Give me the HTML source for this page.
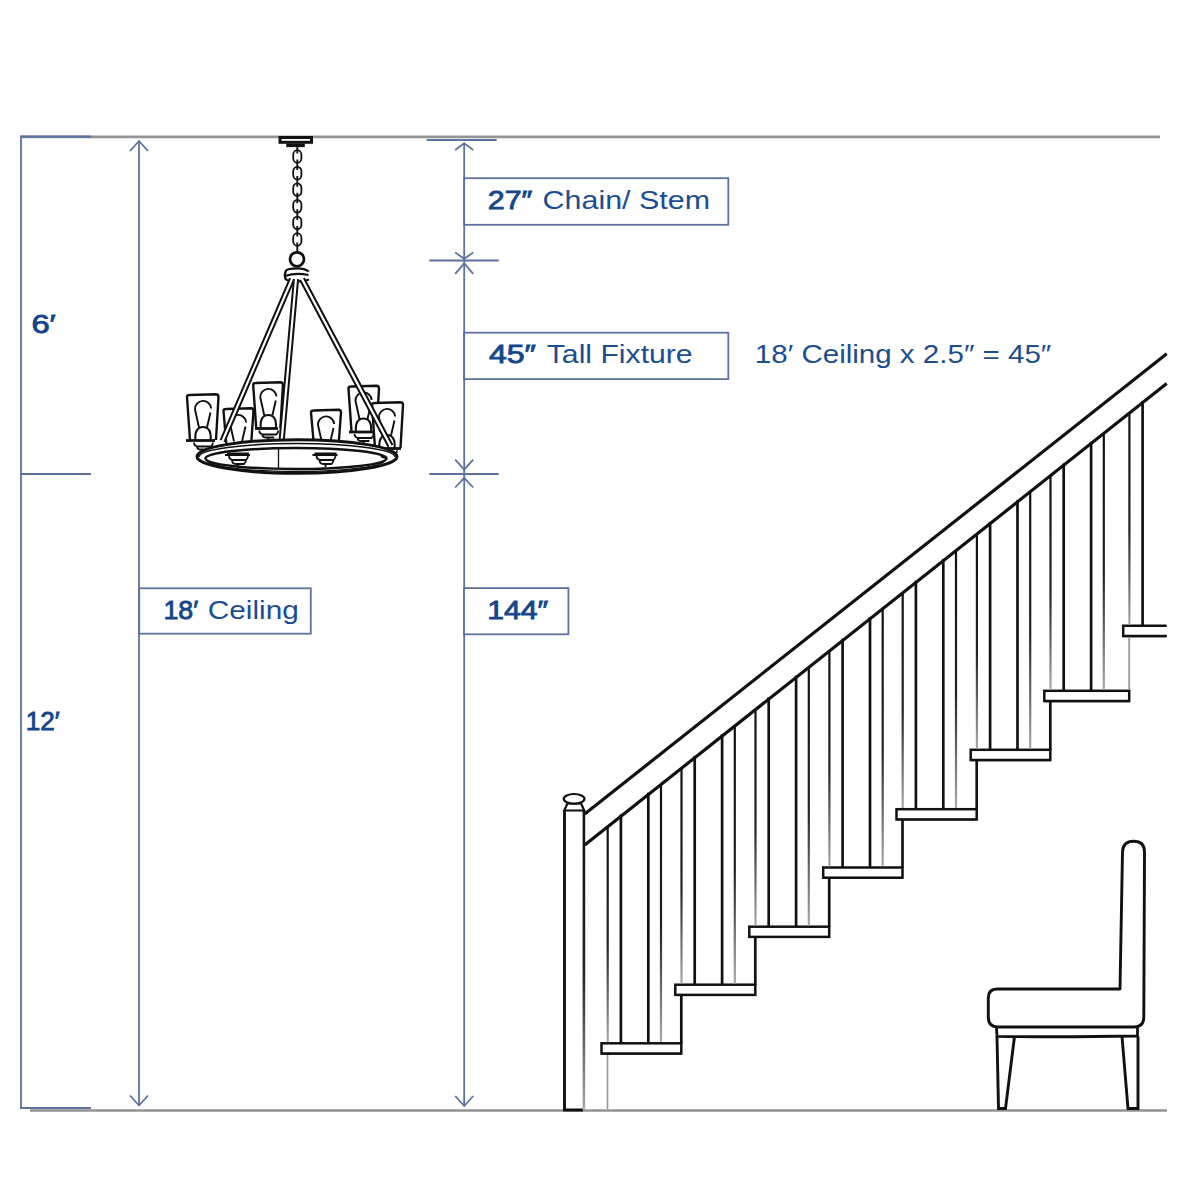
<!DOCTYPE html>
<html><head><meta charset="utf-8"><style>
html,body{margin:0;padding:0;background:#fff;}
svg{display:block;}
text{font-family:"Liberation Sans",sans-serif;}
</style></head><body>
<svg width="1200" height="1200" viewBox="0 0 1200 1200">
<defs><linearGradient id="fade" x1="0" y1="0" x2="0" y2="1"><stop offset="0" stop-color="#111"/><stop offset="0.55" stop-color="#222"/><stop offset="1" stop-color="#aaa"/></linearGradient></defs>
<rect width="1200" height="1200" fill="#fff"/>
<path d="M21 136.8 L1160 136.9" stroke="#939393" stroke-width="2.7" fill="none"/>
<path d="M30 1110.5 L1167 1110.5" stroke="#939393" stroke-width="2.6" fill="none"/>
<line x1="21" y1="136.5" x2="21" y2="1108.5" stroke="#5d729c" stroke-width="1.8" />
<line x1="20.1" y1="136.7" x2="91" y2="136.7" stroke="#5d729c" stroke-width="2.2" />
<line x1="20.1" y1="474" x2="91" y2="474" stroke="#5d729c" stroke-width="2.0" />
<line x1="20.1" y1="1108" x2="91" y2="1108" stroke="#5d729c" stroke-width="2.0" />
<line x1="139" y1="141" x2="139" y2="1105.5" stroke="#5d729c" stroke-width="1.8" />
<polyline points="130,151 139,141 148,151" fill="none" stroke="#5d729c" stroke-width="1.8" stroke-linejoin="miter"/>
<polyline points="130,1095.5 139,1105.5 148,1095.5" fill="none" stroke="#5d729c" stroke-width="1.8" stroke-linejoin="miter"/>
<line x1="464.2" y1="143" x2="464.2" y2="1106" stroke="#5d729c" stroke-width="1.8" />
<line x1="426.7" y1="140" x2="496.7" y2="140" stroke="#5d729c" stroke-width="2.0" />
<polyline points="455.2,150 464.2,143.3 473.2,150" fill="none" stroke="#5d729c" stroke-width="1.8" stroke-linejoin="miter"/>
<polyline points="455.2,252.5 464.2,258.8 473.2,252.5" fill="none" stroke="#5d729c" stroke-width="1.8" stroke-linejoin="miter"/>
<line x1="429.2" y1="260.4" x2="498.8" y2="260.4" stroke="#5d729c" stroke-width="2.0" />
<polyline points="455.2,273.8 464.2,263.3 473.2,273.8" fill="none" stroke="#5d729c" stroke-width="1.8" stroke-linejoin="miter"/>
<polyline points="455.2,459.6 464.2,469.6 473.2,459.6" fill="none" stroke="#5d729c" stroke-width="1.8" stroke-linejoin="miter"/>
<line x1="429.2" y1="474" x2="498.8" y2="474" stroke="#5d729c" stroke-width="2.0" />
<polyline points="455.2,487.5 464.2,477.9 473.2,487.5" fill="none" stroke="#5d729c" stroke-width="1.8" stroke-linejoin="miter"/>
<polyline points="455.2,1096 464.2,1106 473.2,1096" fill="none" stroke="#5d729c" stroke-width="1.8" stroke-linejoin="miter"/>
<rect x="464.2" y="178.2" width="264.09999999999997" height="46.60000000000002" fill="#fff" stroke="#5d729c" stroke-width="1.8"/>
<rect x="464.2" y="332.7" width="264.09999999999997" height="46.400000000000034" fill="#fff" stroke="#5d729c" stroke-width="1.8"/>
<rect x="139.2" y="588.3" width="171.60000000000002" height="45.40000000000009" fill="#fff" stroke="#5d729c" stroke-width="1.8"/>
<rect x="464.0" y="588.1" width="104.39999999999998" height="46.19999999999993" fill="#fff" stroke="#5d729c" stroke-width="1.8"/>
<text x="487.8" y="208.5" font-size="25.8" font-weight="normal" fill="#15468a" stroke="#15468a" stroke-width="0.85" textLength="44.5" lengthAdjust="spacingAndGlyphs">27″</text>
<text x="542.6" y="208.5" font-size="25.8" font-weight="normal" fill="#1c4d92" textLength="167.5" lengthAdjust="spacingAndGlyphs">Chain/ Stem</text>
<text x="488.9" y="362.8" font-size="25.8" font-weight="normal" fill="#15468a" stroke="#15468a" stroke-width="0.85" textLength="47" lengthAdjust="spacingAndGlyphs">45″</text>
<text x="546.8" y="362.8" font-size="25.8" font-weight="normal" fill="#1c4d92" textLength="145.8" lengthAdjust="spacingAndGlyphs">Tall Fixture</text>
<text x="754.8" y="362.7" font-size="25.8" font-weight="normal" fill="#1c4d92" textLength="296.5" lengthAdjust="spacingAndGlyphs">18′ Ceiling x 2.5″ = 45″</text>
<text x="163.4" y="618.7" font-size="25.8" font-weight="normal" fill="#15468a" stroke="#15468a" stroke-width="0.85" textLength="34.8" lengthAdjust="spacingAndGlyphs">18′</text>
<text x="207.8" y="618.7" font-size="25.8" font-weight="normal" fill="#1c4d92" textLength="91" lengthAdjust="spacingAndGlyphs">Ceiling</text>
<text x="487.3" y="618.8" font-size="25.8" font-weight="normal" fill="#15468a" stroke="#15468a" stroke-width="0.85" textLength="61" lengthAdjust="spacingAndGlyphs">144″</text>
<text x="31.4" y="332.7" font-size="25.8" font-weight="normal" fill="#15468a" stroke="#15468a" stroke-width="0.85" textLength="24.3" lengthAdjust="spacingAndGlyphs">6′</text>
<text x="25.7" y="730.3" font-size="25.8" font-weight="normal" fill="#15468a" stroke="#15468a" stroke-width="0.85" textLength="34" lengthAdjust="spacingAndGlyphs">12′</text>
<rect x="601.5" y="1043.3" width="79.79999999999995" height="10.2" fill="#fff" stroke="#111" stroke-width="2.5"/>
<line x1="601.5" y1="1053.9" x2="681.3" y2="1053.9" stroke="#111" stroke-width="1.5"/>
<rect x="606.6" y="826.3" width="2.2" height="215.8" fill="url(#fade)"/>
<line x1="620.9" y1="815.7198969072165" x2="620.9" y2="1042.1" stroke="#111" stroke-width="2.7" stroke-linecap="square"/>
<line x1="648.3" y1="794.0117525773196" x2="648.3" y2="1042.1" stroke="#111" stroke-width="2.7" stroke-linecap="square"/>
<rect x="659.9" y="784.1" width="2.2" height="258.0" fill="url(#fade)"/>
<rect x="606.7" y="1055.0" width="1.6" height="54.0" fill="#999"/>
<rect x="675.3" y="984.7" width="80.0" height="10.2" fill="#fff" stroke="#111" stroke-width="2.5"/>
<line x1="675.3" y1="995.3000000000001" x2="755.3" y2="995.3000000000001" stroke="#111" stroke-width="1.5"/>
<rect x="680.4" y="767.9" width="2.2" height="215.6" fill="url(#fade)"/>
<line x1="694.6999999999999" y1="757.2505154639176" x2="694.6999999999999" y2="983.5" stroke="#111" stroke-width="2.7" stroke-linecap="square"/>
<line x1="722.0999999999999" y1="735.5423711340206" x2="722.0999999999999" y2="983.5" stroke="#111" stroke-width="2.7" stroke-linecap="square"/>
<rect x="733.7" y="725.6" width="2.2" height="257.9" fill="url(#fade)"/>
<line x1="681.3" y1="996.1000000000001" x2="681.3" y2="1042.1" stroke="#111" stroke-width="2.7" stroke-linecap="square"/>
<rect x="749.3" y="926.7" width="79.90000000000009" height="10.2" fill="#fff" stroke="#111" stroke-width="2.5"/>
<line x1="749.3" y1="937.3000000000001" x2="829.2" y2="937.3000000000001" stroke="#111" stroke-width="1.5"/>
<rect x="754.4" y="709.2" width="2.2" height="216.3" fill="url(#fade)"/>
<line x1="768.6999999999999" y1="698.6226804123712" x2="768.6999999999999" y2="925.5" stroke="#111" stroke-width="2.7" stroke-linecap="square"/>
<line x1="796.0999999999999" y1="676.9145360824743" x2="796.0999999999999" y2="925.5" stroke="#111" stroke-width="2.7" stroke-linecap="square"/>
<rect x="807.7" y="667.0" width="2.2" height="258.5" fill="url(#fade)"/>
<line x1="755.3" y1="938.1000000000001" x2="755.3" y2="983.5" stroke="#111" stroke-width="2.7" stroke-linecap="square"/>
<rect x="823.2" y="867.5" width="79.29999999999995" height="10.2" fill="#fff" stroke="#111" stroke-width="2.5"/>
<line x1="823.2" y1="878.1" x2="902.5" y2="878.1" stroke="#111" stroke-width="1.5"/>
<rect x="828.3" y="650.7" width="2.2" height="215.6" fill="url(#fade)"/>
<line x1="842.6" y1="640.0740721649485" x2="842.6" y2="866.3" stroke="#111" stroke-width="2.7" stroke-linecap="square"/>
<line x1="870.0" y1="618.3659278350515" x2="870.0" y2="866.3" stroke="#111" stroke-width="2.7" stroke-linecap="square"/>
<rect x="881.6" y="608.5" width="2.2" height="257.8" fill="url(#fade)"/>
<line x1="829.2" y1="878.9000000000001" x2="829.2" y2="925.5" stroke="#111" stroke-width="2.7" stroke-linecap="square"/>
<rect x="896.5" y="809.2" width="80.20000000000005" height="10.2" fill="#fff" stroke="#111" stroke-width="2.5"/>
<line x1="896.5" y1="819.8000000000001" x2="976.7" y2="819.8000000000001" stroke="#111" stroke-width="1.5"/>
<rect x="901.6" y="592.6" width="2.2" height="215.4" fill="url(#fade)"/>
<line x1="915.9" y1="582.000824742268" x2="915.9" y2="808.0" stroke="#111" stroke-width="2.7" stroke-linecap="square"/>
<line x1="943.3" y1="560.2926804123712" x2="943.3" y2="808.0" stroke="#111" stroke-width="2.7" stroke-linecap="square"/>
<rect x="954.9" y="550.4" width="2.2" height="257.6" fill="url(#fade)"/>
<line x1="902.5" y1="820.6000000000001" x2="902.5" y2="866.3" stroke="#111" stroke-width="2.7" stroke-linecap="square"/>
<rect x="970.7" y="749.8" width="79.59999999999991" height="10.2" fill="#fff" stroke="#111" stroke-width="2.5"/>
<line x1="970.7" y1="760.4" x2="1050.3" y2="760.4" stroke="#111" stroke-width="1.5"/>
<rect x="975.8" y="533.8" width="2.2" height="214.8" fill="url(#fade)"/>
<line x1="990.1" y1="523.2145360824742" x2="990.1" y2="748.5999999999999" stroke="#111" stroke-width="2.7" stroke-linecap="square"/>
<line x1="1017.5" y1="501.5063917525773" x2="1017.5" y2="748.5999999999999" stroke="#111" stroke-width="2.7" stroke-linecap="square"/>
<rect x="1029.1" y="491.6" width="2.2" height="257.0" fill="url(#fade)"/>
<line x1="976.7" y1="761.2" x2="976.7" y2="808.0" stroke="#111" stroke-width="2.7" stroke-linecap="square"/>
<rect x="1044.3" y="690.8" width="84.90000000000009" height="10.2" fill="#fff" stroke="#111" stroke-width="2.5"/>
<line x1="1044.3" y1="701.4" x2="1129.2" y2="701.4" stroke="#111" stroke-width="1.5"/>
<rect x="1049.4" y="475.5" width="2.2" height="214.1" fill="url(#fade)"/>
<line x1="1063.7" y1="464.9036082474226" x2="1063.7" y2="689.5999999999999" stroke="#111" stroke-width="2.7" stroke-linecap="square"/>
<line x1="1091.1" y1="443.19546391752584" x2="1091.1" y2="689.5999999999999" stroke="#111" stroke-width="2.7" stroke-linecap="square"/>
<rect x="1102.7" y="433.3" width="2.2" height="256.3" fill="url(#fade)"/>
<line x1="1050.3" y1="702.2" x2="1050.3" y2="748.5999999999999" stroke="#111" stroke-width="2.7" stroke-linecap="square"/>
<path d="M1166.7 625.8 L1123.2 625.8 L1123.2 636.0 L1166.7 636.0" fill="#fff" stroke="#111" stroke-width="2.5"/>
<line x1="1123.2" y1="636.4" x2="1166.7" y2="636.4" stroke="#111" stroke-width="1.5"/>
<rect x="1128.3" y="413.0" width="2.2" height="211.6" fill="url(#fade)"/>
<line x1="1142.6000000000001" y1="402.3936597938143" x2="1142.6000000000001" y2="624.5999999999999" stroke="#111" stroke-width="2.7" stroke-linecap="square"/>
<rect x="1128.3" y="637.5" width="1.8" height="52.1" fill="#999"/>
<path d="M584.7 814 L1166.7 353.8 M584.7 845 L1166.7 383.6" stroke="#111" stroke-width="3.2" fill="none"/>
<path d="M564.5 810.5 L564.5 1110 L583 1110" stroke="#111" stroke-width="2.9" fill="none"/>
<rect x="582.6" y="810.5" width="2.6" height="299.5" fill="url(#fade)"/>
<path d="M564.3 810.5 L584.2 810.5 L581 803.4 L567.5 803.4 Z" fill="#fff" stroke="#111" stroke-width="2.2"/>
<ellipse cx="574.1" cy="798.8" rx="10.4" ry="4.8" fill="#fff" stroke="#111" stroke-width="2.2"/>
<path d="M1120 989 L1122.5 852 Q1123 841.3 1133.5 841.3 Q1144.5 841.3 1144.5 852 L1143.8 1017 Q1143.8 1027 1134 1027 L998 1027 Q988.3 1027 988.3 1017 L988.3 998 Q988.3 989 997 989 Z" fill="#fff" stroke="#111" stroke-width="2.9" stroke-linejoin="round"/>
<path d="M996.5 1028 L997 1036.3 Q1060 1037.3 1137.5 1036 L1137.5 1028" fill="none" stroke="#111" stroke-width="2.8"/>
<path d="M997 1036.5 L998.5 1108.5 L1005.5 1108.5 L1014.5 1036.5" fill="none" stroke="#111" stroke-width="2.9"/>
<path d="M1122 1036.5 L1128 1108.5 L1138 1108.5 L1138 1036.5" fill="none" stroke="#111" stroke-width="2.9"/>
<g><rect x="280" y="137.5" width="31.5" height="4.8" fill="#fff" stroke="#111" stroke-width="3"/><rect x="286.3" y="143.5" width="18.5" height="3.6" fill="#111"/><rect x="293.2" y="150.2" width="8.2" height="12.6" rx="4.1" ry="4.5" fill="none" stroke="#111" stroke-width="1.8"/><rect x="293.2" y="166.8" width="8.2" height="12.6" rx="4.1" ry="4.5" fill="none" stroke="#111" stroke-width="1.8"/><rect x="293.2" y="183.4" width="8.2" height="12.6" rx="4.1" ry="4.5" fill="none" stroke="#111" stroke-width="1.8"/><rect x="293.2" y="200.0" width="8.2" height="12.6" rx="4.1" ry="4.5" fill="none" stroke="#111" stroke-width="1.8"/><rect x="293.2" y="216.6" width="8.2" height="12.6" rx="4.1" ry="4.5" fill="none" stroke="#111" stroke-width="1.8"/><rect x="293.2" y="233.2" width="8.2" height="12.6" rx="4.1" ry="4.5" fill="none" stroke="#111" stroke-width="1.8"/><path d="M297.3 147 L297.3 150 M297.3 146.0 L297.3 153.5 M297.3 159.5 L297.3 167.0 M297.3 162.6 L297.3 170.1 M297.3 176.1 L297.3 183.6 M297.3 179.2 L297.3 186.7 M297.3 192.7 L297.3 200.2 M297.3 195.8 L297.3 203.3 M297.3 209.3 L297.3 216.8 M297.3 212.4 L297.3 219.9 M297.3 225.9 L297.3 233.4 M297.3 229.0 L297.3 236.5 M297.3 242.5 L297.3 250.0 M297.3 245 L297.3 252" stroke="#111" stroke-width="1.9"/><circle cx="297" cy="259.3" r="7" fill="#fff" stroke="#111" stroke-width="2.8"/><path d="M286 270.5 Q288 268.3 297 268.3 Q305 268.3 308.8 271.5 M286 270.5 Q283.8 275 285.5 279 Q288 281.5 297 281.5 Q305 281 309 279.5 M285.5 275.8 Q296 272.5 308.5 275" fill="none" stroke="#111" stroke-width="2.2"/><path d="M226.5 446 L223.5 411 Q223.5 409 226.0 409 L251.0 408.2 Q253.5 408.2 253.5 411 L251.0 446 Z" fill="#fff" stroke="none"/><path d="M226.5 446 L223.5 411 Q223.5 409 226.0 409 L251.0 408.2 Q253.5 408.2 253.5 411 L251.0 446" fill="none" stroke="#111" stroke-width="2.4"/><path d="M234 441.5 L230 423.5 A8 8 0 0 1 246.2 422.5 M245.5 426.5 L242 441.5" fill="none" stroke="#111" stroke-width="1.9"/><path d="M314 446 L311 412.5 Q311 410.5 313.5 410.5 L338.5 409.7 Q341 409.7 341 412.5 L338.5 446 Z" fill="#fff" stroke="none"/><path d="M314 446 L311 412.5 Q311 410.5 313.5 410.5 L338.5 409.7 Q341 409.7 341 412.5 L338.5 446" fill="none" stroke="#111" stroke-width="2.4"/><path d="M322 443.0 L318 425.0 A8 8 0 0 1 334.2 424.0 M333.5 428.0 L330 443.0" fill="none" stroke="#111" stroke-width="1.9"/><path d="M190 440 L187 397 Q187 395 189.5 395 L216.0 394.2 Q218.5 394.2 218.5 397 L216.0 440 Z" fill="#fff" stroke="none"/><path d="M190 440 L187 397 Q187 395 189.5 395 L216.0 394.2 Q218.5 394.2 218.5 397 L216.0 440" fill="none" stroke="#111" stroke-width="2.4"/><path d="M199 427.5 L195 409.5 A8 8 0 0 1 211.2 408.5 M210.5 412.5 L207 427.5" fill="none" stroke="#111" stroke-width="1.9"/><path d="M195.5 440.5 C194.5 431.5 197.5 427.0 203 427.0 C208.5 427.0 211.5 431.5 210.5 440.5" fill="#fff" stroke="#111" stroke-width="2.1"/><path d="M186 440.5 L215 440.5" stroke="#111" stroke-width="2.8"/><path d="M194 442.5 Q194 446.5 199 446.5 L211 446.5 Q213 444.5 213 442.5 M197 446.5 Q197 449.5 201 449.5 L209 449.5 M203 449.5 L203 451.5" fill="none" stroke="#111" stroke-width="1.8"/><path d="M256.2 428 L253.2 385 Q253.2 383 255.7 383 L280.4 382.2 Q282.9 382.2 282.9 385 L280.4 428 Z" fill="#fff" stroke="none"/><path d="M256.2 428 L253.2 385 Q253.2 383 255.7 383 L280.4 382.2 Q282.9 382.2 282.9 385 L280.4 428" fill="none" stroke="#111" stroke-width="2.4"/><path d="M264.3 415.5 L260.3 397.5 A8 8 0 0 1 276.5 396.5 M275.8 400.5 L272.3 415.5" fill="none" stroke="#111" stroke-width="1.9"/><path d="M260.8 428.5 C259.8 419.5 262.8 415.0 268.3 415.0 C273.8 415.0 276.8 419.5 275.8 428.5" fill="#fff" stroke="#111" stroke-width="2.1"/><path d="M255 428.5 L278 428.5" stroke="#111" stroke-width="2.8"/><path d="M259.3 430.5 Q259.3 434.5 264.3 434.5 L276.3 434.5 Q278.3 432.5 278.3 430.5 M262.3 434.5 Q262.3 437.5 266.3 437.5 L274.3 437.5 M268.3 437.5 L268.3 439.5" fill="none" stroke="#111" stroke-width="1.8"/><path d="M351.5 431.5 L348.5 388.5 Q348.5 386.5 351.0 386.5 L376.5 385.7 Q379 385.7 379 388.5 L376.5 431.5 Z" fill="#fff" stroke="none"/><path d="M351.5 431.5 L348.5 388.5 Q348.5 386.5 351.0 386.5 L376.5 385.7 Q379 385.7 379 388.5 L376.5 431.5" fill="none" stroke="#111" stroke-width="2.4"/><path d="M359.5 419.0 L355.5 401.0 A8 8 0 0 1 371.7 400.0 M371.0 404.0 L367.5 419.0" fill="none" stroke="#111" stroke-width="1.9"/><path d="M356.0 432.0 C355.0 423.0 358.0 418.5 363.5 418.5 C369.0 418.5 372.0 423.0 371.0 432.0" fill="#fff" stroke="#111" stroke-width="2.1"/><path d="M349 432.0 L375 432.0" stroke="#111" stroke-width="2.8"/><path d="M354.5 434.0 Q354.5 438.0 359.5 438.0 L371.5 438.0 Q373.5 436.0 373.5 434.0 M357.5 438.0 Q357.5 441.0 361.5 441.0 L369.5 441.0 M363.5 441.0 L363.5 443.0" fill="none" stroke="#111" stroke-width="1.8"/><path d="M375 448 L372 405 Q372 403 374.5 403 L400.5 402.2 Q403 402.2 403 405 L400.5 448 Z" fill="#fff" stroke="none"/><path d="M375 448 L372 405 Q372 403 374.5 403 L400.5 402.2 Q403 402.2 403 405 L400.5 448" fill="none" stroke="#111" stroke-width="2.4"/><path d="M383 435.5 L379 417.5 A8 8 0 0 1 395.2 416.5 M394.5 420.5 L391 435.5" fill="none" stroke="#111" stroke-width="1.9"/><path d="M379.5 448.5 C378.5 439.5 381.5 435.0 387 435.0 C392.5 435.0 395.5 439.5 394.5 448.5" fill="#fff" stroke="#111" stroke-width="2.1"/><path d="M378 448.5 L401 448.5" stroke="#111" stroke-width="2.8"/><path d="M378 450.5 Q378 454.5 383 454.5 L395 454.5 Q397 452.5 397 450.5 M381 454.5 Q381 457.5 385 457.5 L393 457.5 M387 457.5 L387 459.5" fill="none" stroke="#111" stroke-width="1.8"/><path d="M290.1 278.2 L293.9 279.8 L224.4 441.8 L220.6 440.2 Z" fill="#fff" stroke="none"/><path d="M290.1 278.2 L220.6 440.2 M293.9 279.8 L224.4 441.8" stroke="#111" stroke-width="2.0" fill="none"/><path d="M293.9 278.8 L298.1 279.2 L283.7 441.2 L279.5 440.8 Z" fill="#fff" stroke="none"/><path d="M293.9 278.8 L279.5 440.8 M298.1 279.2 L283.7 441.2" stroke="#111" stroke-width="2.0" fill="none"/><path d="M300.1 280.0 L303.9 278.0 L392.4 445.0 L388.6 447.0 Z" fill="#fff" stroke="none"/><path d="M300.1 280.0 L388.6 447.0 M303.9 278.0 L392.4 445.0" stroke="#111" stroke-width="2.0" fill="none"/><path d="M197 456.5 A100 17 0 1 0 397 456.5 A100 17 0 1 0 197 456.5 Z M205.5 458.5 A90.5 10.5 0 1 0 386.5 458.5 A90.5 10.5 0 1 0 205.5 458.5 Z" fill="#fff" fill-rule="evenodd" stroke="none"/><ellipse cx="297" cy="456.5" rx="100" ry="16.8" fill="none" stroke="#111" stroke-width="3"/><path d="M199 457 A98 13.5 0 0 1 395 457" fill="none" stroke="#111" stroke-width="1.6"/><ellipse cx="296" cy="458.5" rx="90.5" ry="10.5" fill="none" stroke="#111" stroke-width="2.5"/><path d="M207 460 A89 11.5 0 0 0 385 460" fill="none" stroke="#111" stroke-width="1.3"/><line x1="278.5" y1="448" x2="278.5" y2="468" stroke="#111" stroke-width="1.3"/><path d="M225 455 L250 455 M227 453.5 L249 453.5" stroke="#111" stroke-width="1.8"/><path d="M229 456 Q229 460 234 460 L246 460 Q248 458 248 456 M232 460 Q232 464 236 464 L244 464 Q246 462 246 460 M238 464 L238 467" fill="none" stroke="#111" stroke-width="1.8"/><path d="M312.5 455 L337.5 455 M314.5 453.5 L336.5 453.5" stroke="#111" stroke-width="1.8"/><path d="M316.5 456 Q316.5 460 321.5 460 L333.5 460 Q335.5 458 335.5 456 M319.5 460 Q319.5 464 323.5 464 L331.5 464 Q333.5 462 333.5 460 M325.5 464 L325.5 467" fill="none" stroke="#111" stroke-width="1.8"/></g>
</svg>
</body></html>
